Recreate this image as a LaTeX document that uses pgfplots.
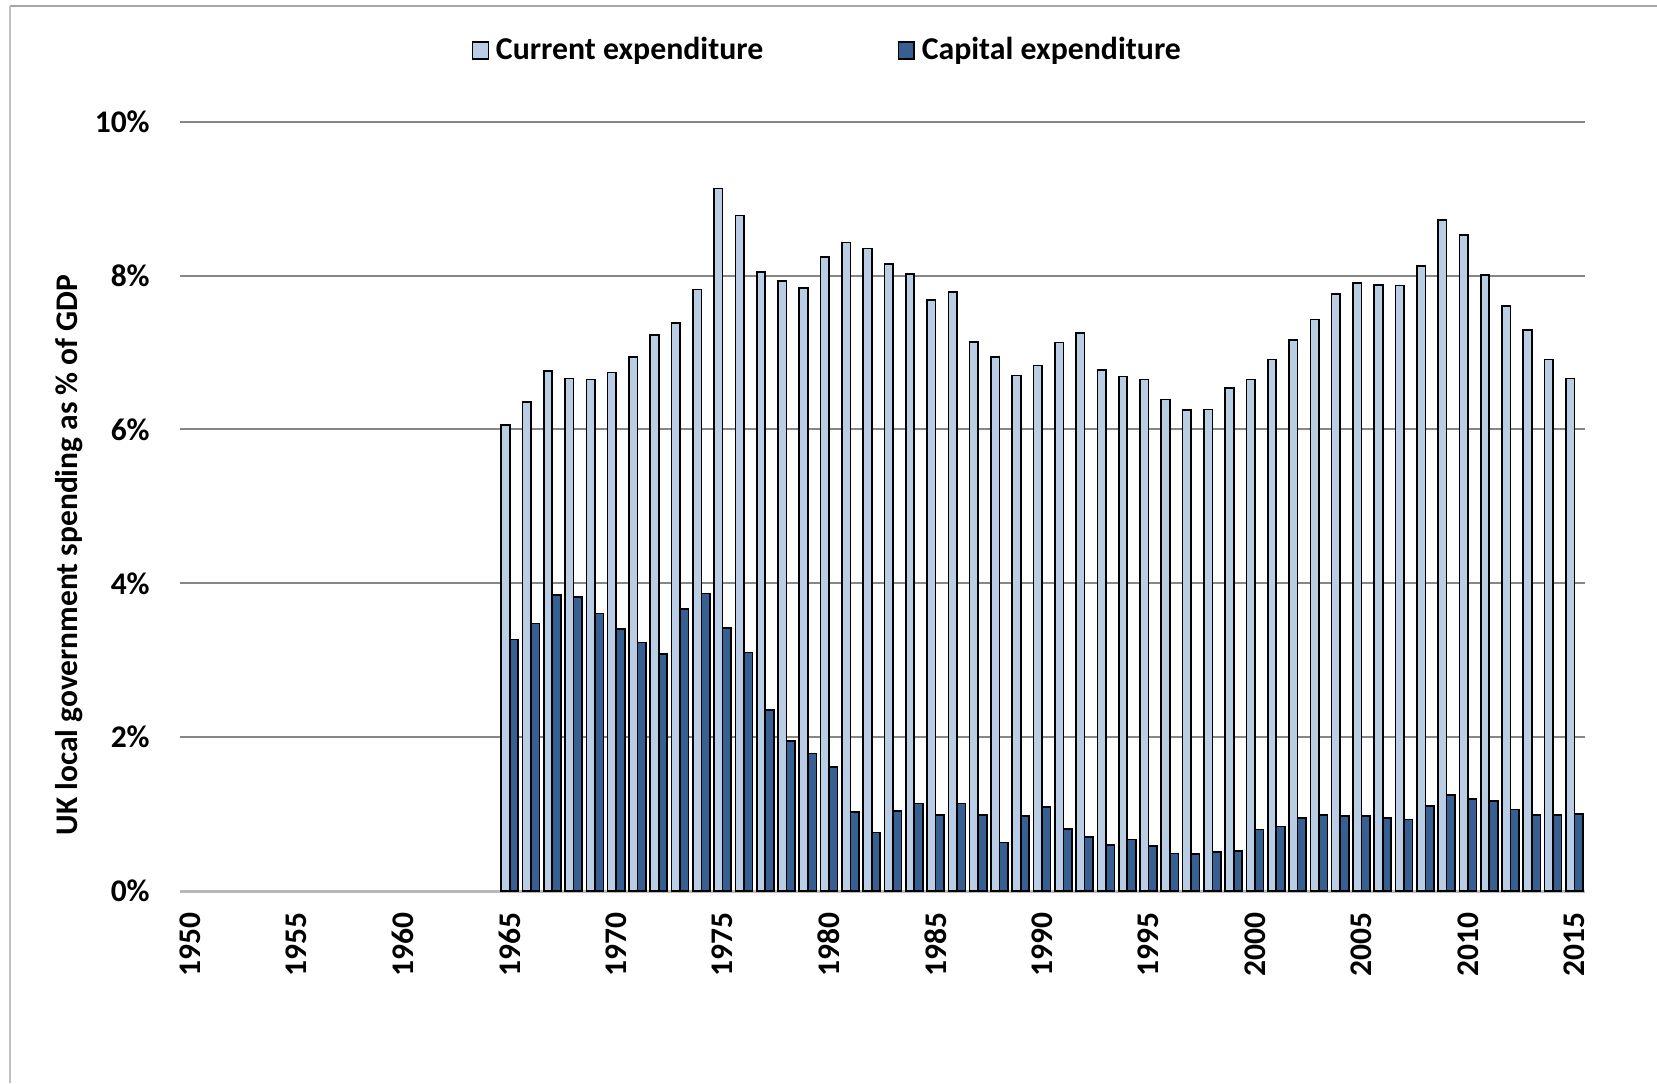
\documentclass[border=0pt]{standalone}
\usepackage{fontspec}
\setmainfont{Carlito}
\usepackage{pgfplots}
\pgfplotsset{compat=1.18}
\definecolor{curcol}{HTML}{B9CDE5}
\definecolor{capcol}{HTML}{376092}
\definecolor{gridcol}{HTML}{868686}
\pgfplotsset{boxlegend/.style={legend image code/.code={\draw[##1, line width=0.5pt] (0pt,-2.6pt) rectangle (4.8pt,2.6pt);}}}
\begin{document}
\begin{tikzpicture}
\path[use as bounding box] (0,0) rectangle (500pt,326.8pt);
\draw[gray!70, line width=0.7pt] (3pt,325pt) -- (500pt,325pt);
\draw[gray!50, line width=0.4pt] (3pt,0pt) -- (3pt,325pt);
\begin{axis}[
  at={(54.2pt,57.9pt)}, anchor=south west,
  scale only axis, width=424.1pt, height=232.2pt,
  xmin=1949.5, xmax=2015.5, ymin=0, ymax=10,
  axis line style={draw=none},
  ymajorgrids, grid style={gridcol, line width=0.6pt},
  ytick={2,4,6,8,10},
  yticklabel={\pgfmathprintnumber{\tick}\%},
  xtick={1950,1955,...,2015},
  xticklabel style={rotate=90, anchor=east, font=\fontsize{9.5}{11}\selectfont\bfseries},
  yticklabel style={font=\fontsize{9.5}{11}\selectfont\bfseries},
  /pgf/number format/assume math mode=true,
  /pgf/number format/1000 sep={},
  major tick length=0pt,
  xticklabel shift=3pt, yticklabel shift=5.5pt,
  ylabel={UK local government spending as \% of GDP},
  ylabel style={font=\fontsize{9.5}{11}\selectfont\bfseries, at={(axis description cs:-0.0783,0.437)}, anchor=center},
  extra y ticks={0}, extra y tick labels={0\%},
  extra y tick style={grid style={gray!55, line width=0.9pt}, yticklabel style={font=\fontsize{9.5}{11}\selectfont\bfseries}},
  legend style={at={(rel axis cs:0.4625,1.0925)}, anchor=center, draw=none, fill=none,
    legend columns=2, font=\fontsize{9.6}{11}\selectfont\bfseries,
    /tikz/every even column/.append style={column sep=38.5pt},
    legend cell align=left, inner sep=0pt},
  bar width=0.4,
  ybar=0pt,
]
\addplot[ybar, bar shift=-0.2, fill=curcol, draw=black, line width=0.5pt, boxlegend] coordinates {
(1965,6.06)(1966,6.36)(1967,6.76)(1968,6.66)(1969,6.65)(1970,6.74)(1971,6.94)(1972,7.23)(1973,7.38)(1974,7.82)
(1975,9.13)(1976,8.78)(1977,8.05)(1978,7.93)(1979,7.84)(1980,8.24)(1981,8.43)(1982,8.35)(1983,8.15)(1984,8.02)
(1985,7.68)(1986,7.79)(1987,7.14)(1988,6.94)(1989,6.70)(1990,6.83)(1991,7.13)(1992,7.25)(1993,6.77)(1994,6.69)
(1995,6.65)(1996,6.39)(1997,6.25)(1998,6.26)(1999,6.54)(2000,6.65)(2001,6.91)(2002,7.16)(2003,7.43)(2004,7.76)
(2005,7.90)(2006,7.88)(2007,7.87)(2008,8.12)(2009,8.72)(2010,8.53)(2011,8.01)(2012,7.60)(2013,7.29)(2014,6.91)(2015,6.66)};
\addplot[ybar, bar shift=0.2, fill=capcol, draw=black, line width=0.5pt, boxlegend] coordinates {
(1965,3.27)(1966,3.48)(1967,3.85)(1968,3.82)(1969,3.61)(1970,3.41)(1971,3.23)(1972,3.08)(1973,3.67)(1974,3.87)
(1975,3.42)(1976,3.10)(1977,2.35)(1978,1.95)(1979,1.79)(1980,1.61)(1981,1.03)(1982,0.76)(1983,1.04)(1984,1.14)
(1985,0.99)(1986,1.14)(1987,0.99)(1988,0.63)(1989,0.98)(1990,1.09)(1991,0.81)(1992,0.70)(1993,0.60)(1994,0.67)
(1995,0.59)(1996,0.49)(1997,0.48)(1998,0.51)(1999,0.52)(2000,0.80)(2001,0.84)(2002,0.95)(2003,0.99)(2004,0.98)
(2005,0.98)(2006,0.95)(2007,0.93)(2008,1.11)(2009,1.25)(2010,1.20)(2011,1.17)(2012,1.06)(2013,0.99)(2014,0.99)(2015,1.00)};
\legend{Current expenditure, Capital expenditure}
\end{axis}
\end{tikzpicture}
\end{document}
